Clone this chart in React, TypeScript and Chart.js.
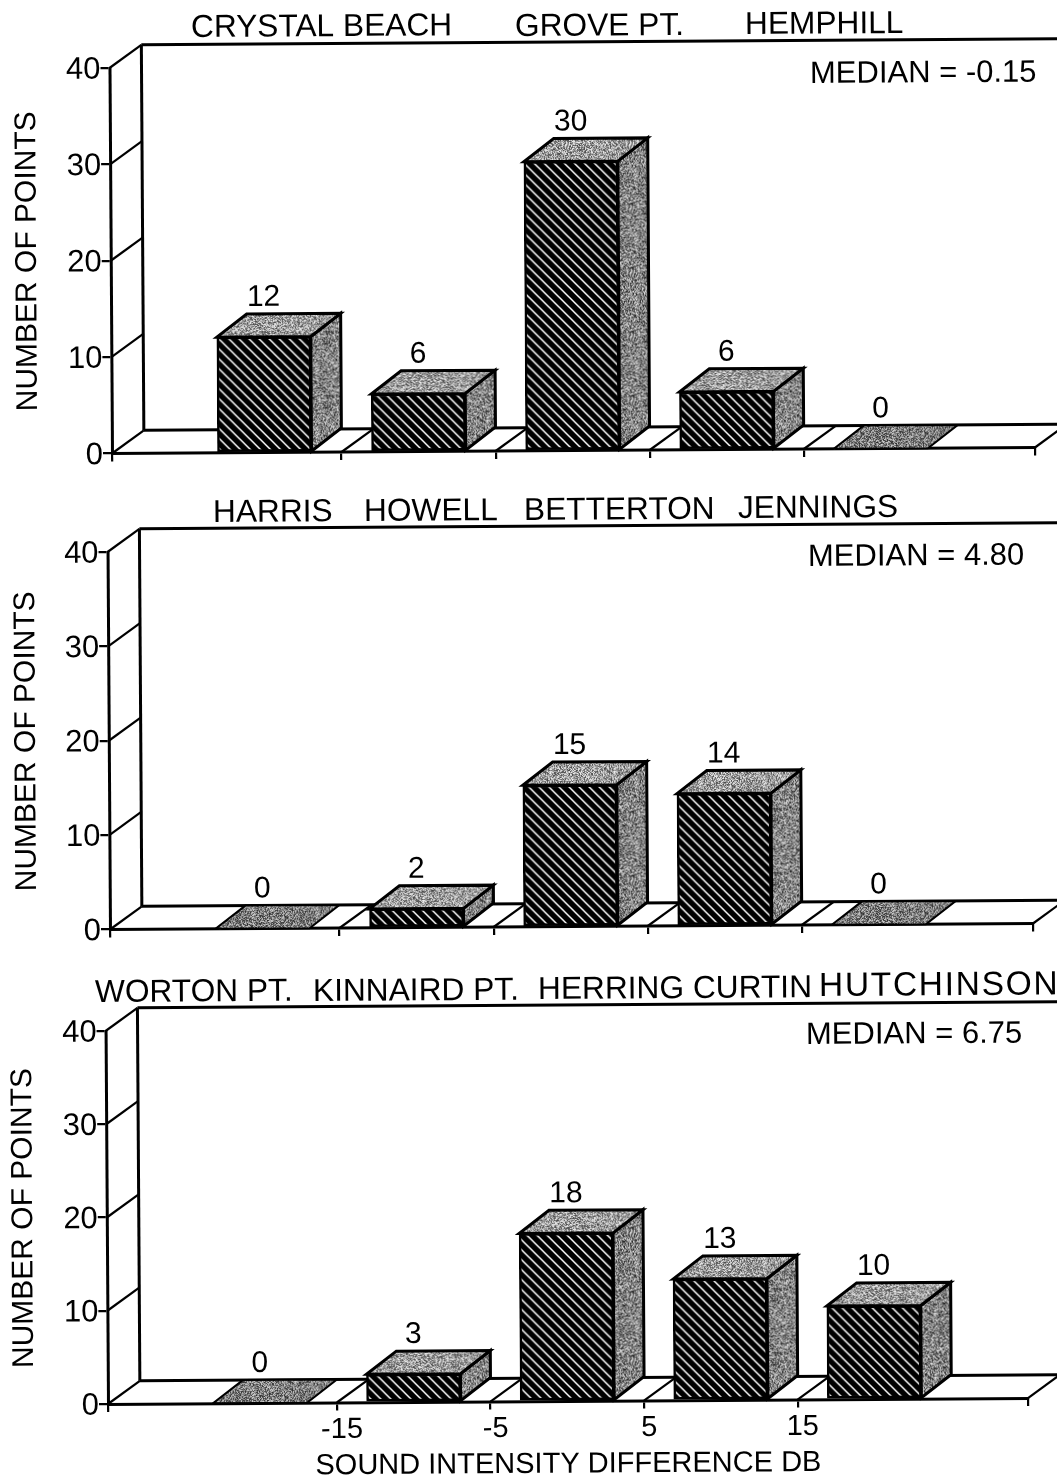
import React, { useEffect, useRef } from "react";
import { Chart, registerables } from "chart.js";

Chart.register(...registerables);

// ---- data ----
const BIN_CENTERS = [-20, -10, 0, 10, 20];
const COUNTS_TOP = [12, 6, 30, 6, 0];
const COUNTS_MIDDLE = [0, 2, 15, 14, 0];
const COUNTS_BOTTOM = [0, 3, 18, 13, 10];
const X_MIN = -29.9;
const X_MAX = 30;
const X_TICKS = [X_MIN, -15, -5, 5, 15, X_MAX];
const Y_TICK_STEP = 10;
const Y_MAX = 40;
const Y_TITLE = "NUMBER OF POINTS";
const X_TITLE = "SOUND INTENSITY DIFFERENCE DB";
const MEDIAN_TOP = "MEDIAN = -0.15";
const MEDIAN_MIDDLE = "MEDIAN = 4.80";
const MEDIAN_BOTTOM = "MEDIAN = 6.75";
const STATIONS_TOP = ["CRYSTAL BEACH", "GROVE PT.", "HEMPHILL"];
const STATIONS_MIDDLE = ["HARRIS", "HOWELL", "BETTERTON", "JENNINGS"];
const STATIONS_BOTTOM = ["WORTON PT.", "KINNAIRD PT.", "HERRING CURTIN", "HUTCHINSON"];

// ---- layout (page pixels) ----
const FONT = '"Liberation Sans", Arial, sans-serif';
const TILT = 0.0065;
const WALL_DX = 32;
const WALL_DY = 23;
const BAR_DX = 30;
const BAR_DY = 23;
const BAR_W = 94;
const STATION_SIZE = 31.7;
const MEDIAN_SIZE = 31;

type Lbl = { text: string; x: number; y: number; size: number; spacing?: number };

const PANELS = [
  {
    counts: COUNTS_TOP, top: 0, height: 480, ox: 112, oy: 453.5, yTop: 68, width: 923, xLabels: false, titleX: 11,
    labels: [
      { text: STATIONS_TOP[0], x: 191, y: 37, size: STATION_SIZE },
      { text: STATIONS_TOP[1], x: 515, y: 36, size: STATION_SIZE },
      { text: STATIONS_TOP[2], x: 745, y: 34, size: STATION_SIZE },
      { text: MEDIAN_TOP, x: 810, y: 83, size: MEDIAN_SIZE },
    ] as Lbl[],
  },
  {
    counts: COUNTS_MIDDLE, top: 480, height: 480, ox: 110, oy: 929.5, yTop: 552, width: 923, xLabels: false, titleX: 10,
    labels: [
      { text: STATIONS_MIDDLE[0], x: 213, y: 522, size: STATION_SIZE },
      { text: STATIONS_MIDDLE[1], x: 364, y: 521, size: STATION_SIZE },
      { text: STATIONS_MIDDLE[2], x: 524, y: 520, size: STATION_SIZE },
      { text: STATIONS_MIDDLE[3], x: 738, y: 518, size: STATION_SIZE },
      { text: MEDIAN_MIDDLE, x: 808, y: 566, size: MEDIAN_SIZE },
    ] as Lbl[],
  },
  {
    counts: COUNTS_BOTTOM, top: 960, height: 519, ox: 108, oy: 1404, yTop: 1031, width: 920, xLabels: true, titleX: 7,
    labels: [
      { text: STATIONS_BOTTOM[0], x: 95, y: 1002, size: STATION_SIZE },
      { text: STATIONS_BOTTOM[1], x: 313, y: 1001, size: STATION_SIZE },
      { text: STATIONS_BOTTOM[2], x: 538, y: 999, size: STATION_SIZE },
      { text: STATIONS_BOTTOM[3], x: 819, y: 996, size: 33.5, spacing: 1.7 },
      { text: MEDIAN_BOTTOM, x: 806, y: 1044, size: MEDIAN_SIZE },
    ] as Lbl[],
  },
];

function hatchPattern(): CanvasPattern {
  const n = 10;
  const c = document.createElement("canvas");
  c.width = n;
  c.height = n;
  const g = c.getContext("2d")!;
  g.fillStyle = "#000";
  g.fillRect(0, 0, n, n);
  g.strokeStyle = "#fff";
  g.lineWidth = 1.5;
  for (const o of [-n, 0, n]) {
    g.beginPath();
    g.moveTo(o - 1, -1);
    g.lineTo(o + n + 1, n + 1);
    g.stroke();
  }
  return g.createPattern(c, "repeat")!;
}

// Deterministic speckle standing in for the halftone shading of the print.
function stipplePattern(mid: number, spread: number): CanvasPattern {
  const n = 64;
  const c = document.createElement("canvas");
  c.width = n;
  c.height = n;
  const g = c.getContext("2d")!;
  const img = g.createImageData(n, n);
  for (let y = 0; y < n; y++) {
    for (let x = 0; x < n; x++) {
      const s = Math.sin(x * 12.9898 + y * 78.233) * 43758.5453;
      const h = s - Math.floor(s);
      const v = Math.max(0, Math.min(255, mid + (h - 0.5) * spread));
      const i = (y * n + x) * 4;
      img.data[i] = img.data[i + 1] = img.data[i + 2] = v;
      img.data[i + 3] = 255;
    }
  }
  g.putImageData(img, 0, 0);
  return g.createPattern(c, "repeat")!;
}

function poly(ctx: CanvasRenderingContext2D, pts: number[][], fill: any, lw: number) {
  ctx.beginPath();
  pts.forEach((p, i) => (i ? ctx.lineTo(p[0], p[1]) : ctx.moveTo(p[0], p[1])));
  ctx.closePath();
  ctx.fillStyle = fill;
  ctx.fill();
  if (lw > 0) {
    ctx.lineWidth = lw;
    ctx.lineJoin = "miter";
    ctx.strokeStyle = "#000";
    ctx.stroke();
  }
}

function segment(ctx: CanvasRenderingContext2D, x1: number, y1: number, x2: number, y2: number, lw: number) {
  ctx.beginPath();
  ctx.moveTo(x1, y1);
  ctx.lineTo(x2, y2);
  ctx.lineWidth = lw;
  ctx.strokeStyle = "#000";
  ctx.stroke();
}

function panelPlugin(panel: (typeof PANELS)[number], topFill: any, sideFill: any, flatFill: any) {
  const toFrame = (px: number, py: number) => {
    const dxp = px - panel.ox;
    const dyp = py - panel.oy;
    return { x: panel.ox + dxp - dyp * TILT, y: panel.oy - panel.top + dyp + dxp * TILT };
  };
  return {
    id: "panel3d",
    beforeDraw(chart: any) {
      const { ctx } = chart;
      const oy = panel.oy - panel.top;
      ctx.save();
      ctx.translate(panel.ox, oy);
      ctx.rotate(-TILT);
      ctx.translate(-panel.ox, -oy);
    },
    beforeDatasetsDraw(chart: any) {
      const { ctx, scales } = chart;
      const x = scales.x;
      const y = scales.y;
      const y0 = y.getPixelForValue(0);
      const yT = y.getPixelForValue(Y_MAX);
      const bx = x.left + WALL_DX;
      // side wall
      segment(ctx, bx, yT - WALL_DY, bx, y0 - WALL_DY, 3);
      y.ticks.forEach((t: any) => {
        const p = y.getPixelForValue(t.value);
        segment(ctx, x.left, p, bx, p - WALL_DY, 2.2);
      });
      // back wall top and floor edges
      segment(ctx, bx, yT - WALL_DY, chart.width + 40, yT - WALL_DY, 3);
      segment(ctx, bx, y0 - WALL_DY, x.right + WALL_DX, y0 - WALL_DY, 3);
      // floor lines running back from the x ticks
      x.ticks.forEach((t: any) => {
        if (t.value === X_MIN) return;
        const p = x.getPixelForValue(t.value);
        segment(ctx, p, y0, p + WALL_DX, y0 - WALL_DY, 2.2);
      });
    },
    afterDatasetsDraw(chart: any) {
      const { ctx } = chart;
      const meta = chart.getDatasetMeta(0);
      meta.data.forEach((bar: any, i: number) => {
        const l = bar.x - bar.width / 2;
        const r = bar.x + bar.width / 2;
        const value = panel.counts[i];
        if (value === 0) {
          poly(ctx, [[l, bar.base], [r, bar.base], [r + BAR_DX, bar.base - BAR_DY], [l + BAR_DX, bar.base - BAR_DY]], flatFill, 2);
        } else {
          poly(ctx, [[r, bar.y], [r + BAR_DX, bar.y - BAR_DY], [r + BAR_DX, bar.base - BAR_DY], [r, bar.base]], sideFill, 3);
          poly(ctx, [[l, bar.y], [r, bar.y], [r + BAR_DX, bar.y - BAR_DY], [l + BAR_DX, bar.y - BAR_DY]], topFill, 3);
        }
        ctx.font = `30px ${FONT}`;
        ctx.fillStyle = "#000";
        ctx.textAlign = "center";
        ctx.textBaseline = "alphabetic";
        ctx.fillText(String(value), bar.x, bar.y - 31);
      });
      panel.labels.forEach((lab) => {
        const p = toFrame(lab.x, lab.y);
        ctx.font = `${lab.size}px ${FONT}`;
        (ctx as any).letterSpacing = `${lab.spacing ?? 0}px`;
        ctx.fillStyle = "#000";
        ctx.textAlign = "left";
        ctx.textBaseline = "alphabetic";
        ctx.fillText(lab.text, p.x, p.y);
        (ctx as any).letterSpacing = "0px";
      });
    },
    afterDraw(chart: any) {
      chart.ctx.restore();
    },
  };
}

function Panel({ panel }: { panel: (typeof PANELS)[number] }) {
  const ref = useRef<HTMLCanvasElement>(null);
  useEffect(() => {
    const hatch = hatchPattern();
    const topFill = stipplePattern(155, 170);
    const sideFill = stipplePattern(130, 190);
    const flatFill = stipplePattern(125, 170);
    const axisBottom = panel.oy - panel.top;
    const chart = new Chart(ref.current!, {
      type: "bar",
      data: {
        datasets: [
          {
            data: BIN_CENTERS.map((c, i) => ({ x: c, y: panel.counts[i] })),
            backgroundColor: hatch as any,
            borderColor: "#000",
            borderWidth: ((c: any) => (c.raw && c.raw.y > 0 ? 2.5 : 0)) as any,
            borderSkipped: false,
            barThickness: BAR_W,
            clip: false as any,
          },
        ],
      },
      options: {
        responsive: false,
        animation: false,
        devicePixelRatio: 1,
        events: [],
        layout: {
          autoPadding: false,
          padding: { left: 0, top: panel.yTop - panel.top, right: 1057 - panel.ox - panel.width, bottom: 0 },
        },
        plugins: { legend: { display: false }, tooltip: { enabled: false }, title: { display: false } },
        scales: {
          x: {
            type: "linear",
            min: X_MIN,
            max: X_MAX,
            offset: false,
            afterBuildTicks: (s: any) => {
              s.ticks = X_TICKS.map((v) => ({ value: v }));
            },
            afterFit: (s: any) => {
              s.height = panel.height - axisBottom;
            },
            grid: { offset: false, drawOnChartArea: false, drawTicks: true, tickLength: 8, lineWidth: 2.2, color: "#000" },
            border: { display: true, color: "#000", width: 3 },
            ticks: {
              display: panel.xLabels,
              autoSkip: false,
              maxRotation: 0,
              minRotation: 0,
              padding: 2,
              labelOffset: 5,
              color: "#000",
              font: { family: FONT, size: 29 },
              callback: (v: any) => (v === X_MIN || v === X_MAX ? "" : String(v)),
            },
            title: {
              display: panel.xLabels,
              text: X_TITLE,
              color: "#000",
              font: { family: FONT, size: 29 },
              padding: { top: 0, bottom: -6 },
            },
          },
          y: {
            type: "linear",
            min: 0,
            max: Y_MAX,
            afterFit: (s: any) => {
              s.width = panel.ox;
            },
            grid: { drawOnChartArea: false, drawTicks: true, tickLength: 9, lineWidth: 2.2, color: "#000" },
            border: { display: true, color: "#000", width: 3 },
            ticks: { stepSize: Y_TICK_STEP, padding: 0, labelOffset: 2, color: "#000", font: { family: FONT, size: 31 } },
            title: {
              display: true,
              text: Y_TITLE,
              color: "#000",
              font: { family: FONT, size: 30 },
              padding: { top: panel.titleX, bottom: 0 },
            },
          },
        },
      } as any,
      plugins: [panelPlugin(panel, topFill, sideFill, flatFill) as any],
    });
    return () => chart.destroy();
  }, [panel]);
  return (
    <canvas
      ref={ref}
      width={1057}
      height={panel.height}
      style={{ position: "absolute", left: 0, top: panel.top, width: 1057, height: panel.height, display: "block" }}
    />
  );
}

export default function App() {
  return (
    <div style={{ position: "absolute", left: 0, top: 0, width: 1057, height: 1479, overflow: "hidden", background: "#fff" }}>
      {PANELS.map((p, i) => (
        <Panel key={i} panel={p} />
      ))}
    </div>
  );
}
